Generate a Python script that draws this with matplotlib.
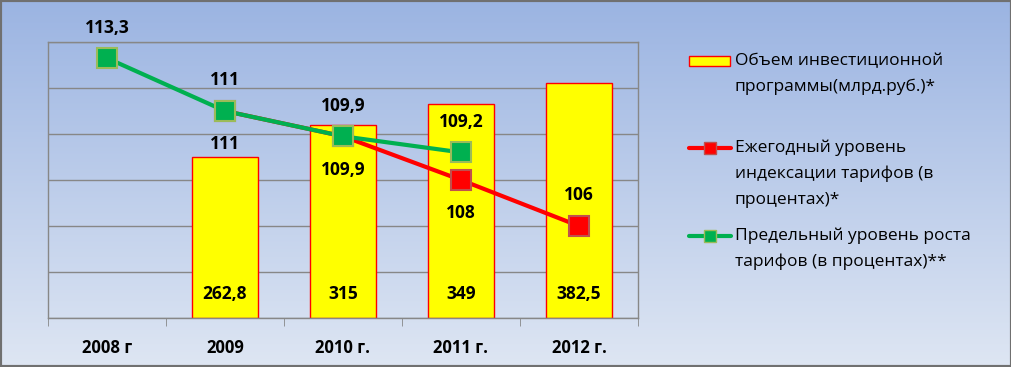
import numpy as np
import matplotlib
matplotlib.use("Agg")
import matplotlib.pyplot as plt
from matplotlib.patches import Rectangle
from matplotlib.lines import Line2D

plt.rcParams["font.family"] = ["Open Sans", "DejaVu Sans"]

# данные
years = ["2008 г", "2009", "2010 г.", "2011 г.", "2012 г."]
invest = [np.nan, 262.8, 315, 349, 382.5]          # млрд.руб.
index_tar = [np.nan, 111, 109.9, 108, 106]         # ежегодный уровень индексации
limit_tar = [113.3, 111, 109.9, 109.2, np.nan]     # предельный уровень роста

invest_lbl = ["", "262,8", "315", "349", "382,5"]
index_lbl = ["", "111", "109,9", "108", "106"]
limit_lbl = ["113,3", "111", "109,9", "109,2", ""]

legend_txt = [
    ["Объем инвестиционной", "программы(млрд.руб.)*"],
    ["Ежегодный уровень", "индексации тарифов (в", "процентах)*"],
    ["Предельный уровень роста", "тарифов (в процентах)**"],
]

W, H = 1012, 367
fig = plt.figure(figsize=(W / 100, H / 100), dpi=100)

# фон с градиентом
bg = fig.add_axes([0, 0, 1, 1], zorder=-10)
top = np.array([0x9B, 0xB4, 0xE2]) / 255
bot = np.array([0xDE, 0xE6, 0xF3]) / 255
t = np.linspace(0, 1, 256)[:, None]
grad = (top[None, :] * (1 - t) + bot[None, :] * t)[:, None, :]
bg.imshow(grad, aspect="auto", extent=[0, 1, 0, 1])
bg.set_axis_off()

x = np.arange(len(years))

ax = fig.add_axes([48 / W, 1 - 318 / H, 590 / W, 276 / H])
ax.set_facecolor("none")
ax.bar(x, invest, width=0.56, color="#FFFF00", edgecolor="#FF0000", linewidth=1, zorder=2)
ax.set_ylim(0, 450)
ax.set_xlim(-0.5, len(years) - 0.5)
ax.set_yticks(np.arange(0, 451, 75))
ax.yaxis.grid(True, color="#878787", linewidth=1)
ax.set_axisbelow(True)
ax.tick_params(axis="y", length=0, labelleft=False)
for s in ax.spines.values():
    s.set_color("#878787")
    s.set_linewidth(1)

ax.set_xticks(x)
ax.set_xticklabels(years, fontsize=12, fontweight="bold")
ax.set_xticks(np.arange(-0.5, len(years)), minor=True)
ax.tick_params(axis="x", which="major", length=0, pad=15)
ax.tick_params(axis="x", which="minor", length=6, color="#878787", direction="out")

for xi, lbl in zip(x, invest_lbl):
    if lbl:
        ax.annotate(lbl, (xi, 0), xytext=(0, 17), textcoords="offset points",
                    ha="center", va="center", fontsize=12.5, fontweight="bold", zorder=5)

ax2 = ax.twinx()
ax2.set_ylim(102, 114)
ax2.tick_params(axis="y", length=0, labelright=False)
for s in ax2.spines.values():
    s.set_visible(False)

ax2.plot(x, index_tar, color="#FF0000", linewidth=3, marker="s", markersize=14,
         markerfacecolor="#FF0000", markeredgecolor="#C0504D", markeredgewidth=1.5, zorder=3)
ax2.plot(x, limit_tar, color="#00B050", linewidth=3, marker="s", markersize=14,
         markerfacecolor="#00B050", markeredgecolor="#9BBB59", markeredgewidth=1.5, zorder=4)

for xi, v, lbl in zip(x, limit_tar, limit_lbl):
    if lbl:
        ax2.annotate(lbl, (xi, v), xytext=(0, 22), textcoords="offset points",
                     ha="center", va="center", fontsize=12.5, fontweight="bold")
for i, (xi, v, lbl) in enumerate(zip(x, index_tar, index_lbl)):
    if lbl:
        dy = 22 if i == len(x) - 1 else -24
        ax2.annotate(lbl, (xi, v), xytext=(0, dy), textcoords="offset points",
                     ha="center", va="center", fontsize=12.5, fontweight="bold")

# легенда
def fy(py):
    return 1 - py / H

fig.add_artist(Rectangle((689 / W, fy(66)), 41 / W, 10 / H, transform=fig.transFigure,
                         facecolor="#FFFF00", edgecolor="#FF0000", linewidth=1))
fig.add_artist(Line2D([689 / W, 731 / W], [fy(148)] * 2, transform=fig.transFigure,
                      color="#FF0000", linewidth=3, solid_capstyle="round"))
fig.add_artist(Line2D([710 / W], [fy(148)], transform=fig.transFigure, marker="s",
                      markersize=9, markerfacecolor="#FF0000", markeredgecolor="#C0504D", linestyle="none"))
fig.add_artist(Line2D([689 / W, 731 / W], [fy(236)] * 2, transform=fig.transFigure,
                      color="#00B050", linewidth=3, solid_capstyle="round"))
fig.add_artist(Line2D([710 / W], [fy(236)], transform=fig.transFigure, marker="s",
                      markersize=9, markerfacecolor="#00B050", markeredgecolor="#9BBB59", linestyle="none"))

starts = [61, 148, 236]
for y0, lines in zip(starts, legend_txt):
    for k, line in enumerate(lines):
        fig.text(735 / W, fy(y0 + 26 * k), line, ha="left", va="center", fontsize=12.5)

# рамка
fig.add_artist(Rectangle((0, 0), 1, 1, transform=fig.transFigure, fill=False,
                         edgecolor="#707070", linewidth=3))

plt.savefig("out.png", dpi=100)
